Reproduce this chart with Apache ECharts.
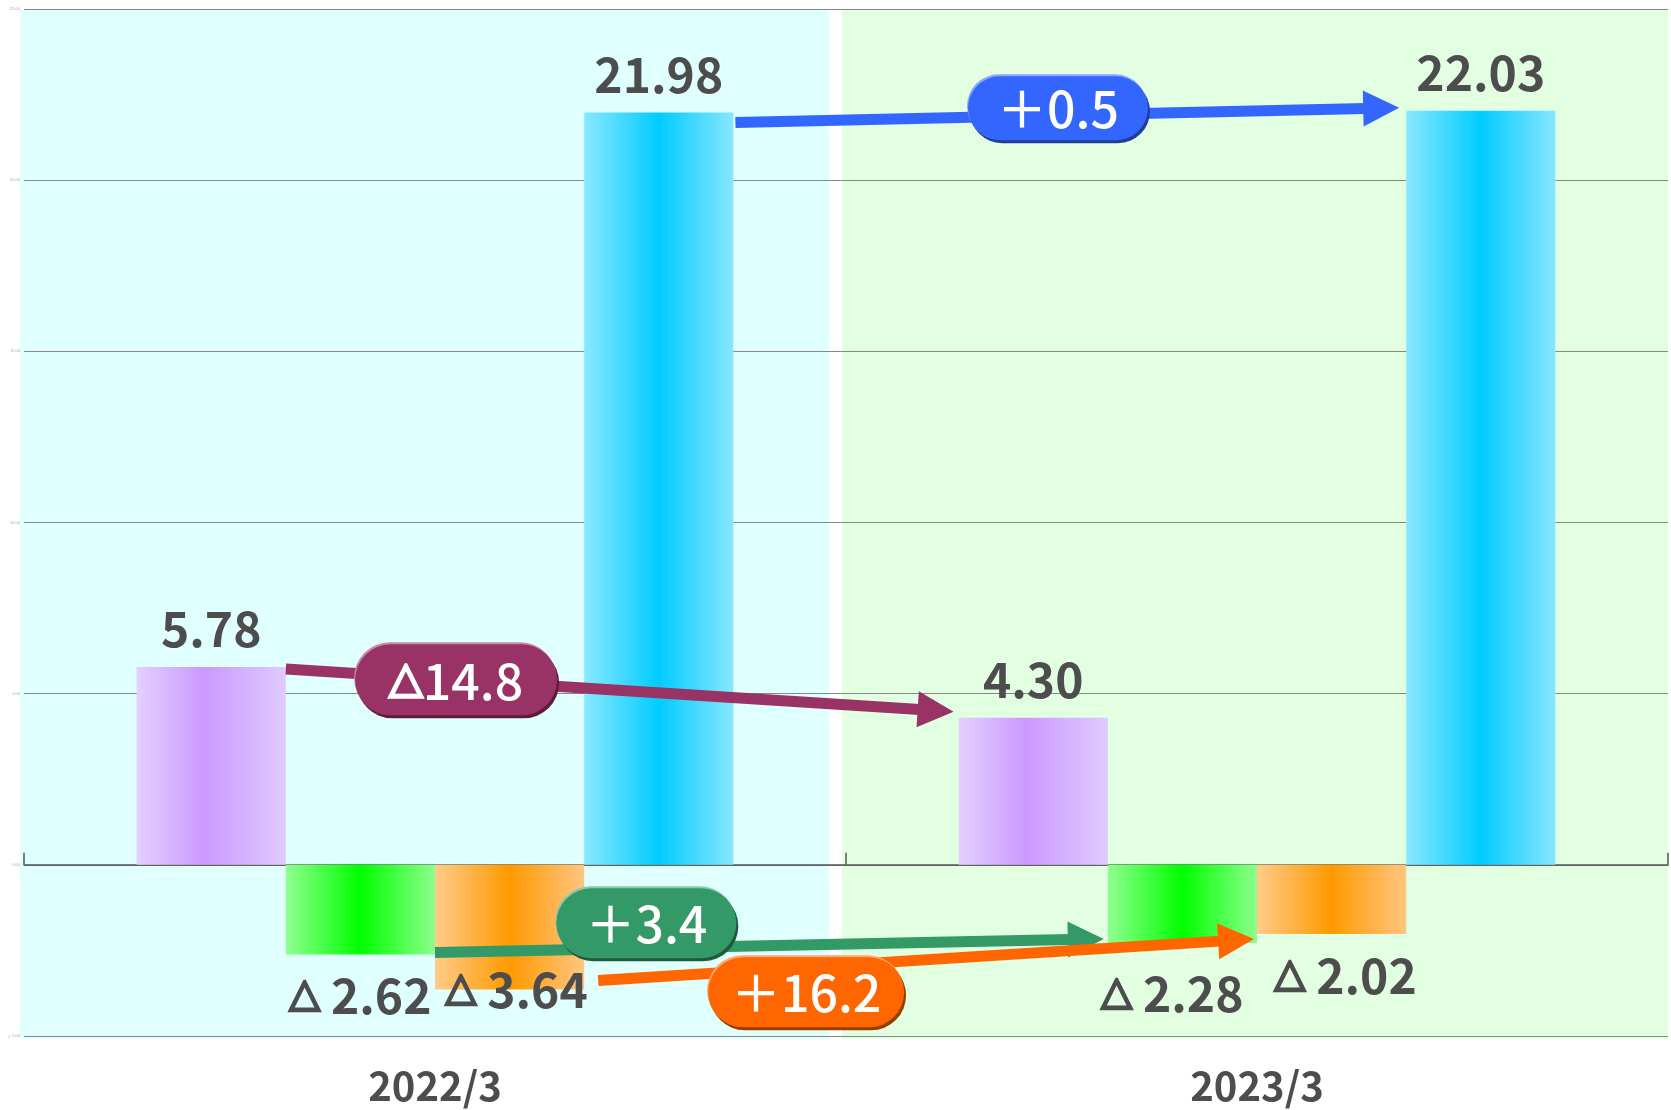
<!DOCTYPE html>
<html><head><meta charset="utf-8">
<script src="https://cdn.jsdelivr.net/npm/echarts@6/dist/echarts.min.js"></script>
<style>html,body{margin:0;padding:0;background:#fff}#c{width:1671px;height:1110px}</style>
</head><body><div id="c"></div>
<script>
// ---- data ----
const categories = ['2022/3', '2023/3'];
const purpleValues = [5.78, 4.30];
const greenValues = [-2.62, -2.28];
const orangeValues = [-3.64, -2.02];
const cyanValues = [21.98, 22.03];
const yMin = -5, yMax = 25, yStep = 5;
const changeLabels = ['△14.8', '＋3.4', '＋16.2', '＋0.5'];

// ---- styles ----
const LABEL_FONT = '"Noto Sans CJK JP","Liberation Sans",sans-serif';
function grad(edgeL, mid, edgeR, midPos) {
  return new echarts.graphic.LinearGradient(0, 0, 1, 0, [
    {offset: 0, color: edgeL}, {offset: midPos, color: mid}, {offset: 1, color: edgeR}
  ]);
}
function fmt(v) { return v < 0 ? '△ ' + Math.abs(v).toFixed(2) : v.toFixed(2); }
function fmtRich(v) { return v < 0 ? '{t|△} ' + Math.abs(v).toFixed(2) : v.toFixed(2); }
const baseLabel = {
  show: true, fontFamily: LABEL_FONT, fontWeight: 'bold', fontSize: 48,
  color: '#4d4d4d', formatter: p => fmtRich(p.value),
  rich: { t: { fontFamily: '"DejaVu Sans"', fontWeight: 'bold', fontSize: 40, color: '#4d4d4d',
               textBorderColor: '#4d4d4d', textBorderWidth: 2.5 } }
};
// label nudges for negative bars (style only)
const greenNudge = [[0, 17], [-10, 27]];
const orangeNudge = [[7, -24], [14, 18]];
function negData(vals, nudge) {
  return vals.map((v, i) => ({ value: v, label: { offset: nudge[i] } }));
}

const chart = echarts.init(document.getElementById('c'), null, {renderer: 'canvas'});
const option = {
  animation: false,
  backgroundColor: '#ffffff',
  grid: { left: 24, right: 3, top: 9, bottom: 74, containLabel: false, outerBoundsMode: 'none' },
  xAxis: [{
    type: 'category', data: categories,
    axisLine: { show: true, onZero: true, lineStyle: { color: '#555', width: 1.5 } },
    axisTick: { show: true, inside: true, length: 12, lineStyle: { color: '#555', width: 1.5 } },
    axisLabel: { show: false },
    splitLine: { show: false }
  }, {
    type: 'category', data: categories, position: 'bottom',
    axisLine: { show: false, onZero: false }, axisTick: { show: false },
    axisLabel: { margin: 30, fontFamily: LABEL_FONT, fontWeight: 'bold', fontSize: 40, color: '#4d4d4d' },
    splitLine: { show: false }
  }],
  yAxis: {
    type: 'value', min: yMin, max: yMax, interval: yStep,
    axisLine: { show: false }, axisTick: { show: false },
    axisLabel: { fontSize: 4, color: '#aaa', margin: 4, formatter: v => fmt(v) },
    splitLine: { show: true, lineStyle: { color: '#888', width: 1 } }
  },
  series: [
    { name: 'p', type: 'bar', barGap: '0%', barCategoryGap: '27.4%', data: purpleValues,
      itemStyle: { color: grad('#e3d0ff', '#cc99ff', '#e0caff', 0.45) },
      label: Object.assign({}, baseLabel, { position: 'top', distance: 14 }) },
    { name: 'g', type: 'bar', barGap: '0%', barCategoryGap: '27.4%', data: negData(greenValues, greenNudge),
      itemStyle: { color: grad('#90ff90', '#00ff00', '#8cff8c', 0.5) },
      label: Object.assign({}, baseLabel, { position: 'bottom', distance: 0 }) },
    { name: 'o', type: 'bar', barGap: '0%', barCategoryGap: '27.4%', data: negData(orangeValues, orangeNudge),
      itemStyle: { color: grad('#ffcc88', '#ff9900', '#ffc680', 0.5) },
      label: Object.assign({}, baseLabel, { position: 'bottom', distance: 0 }) },
    { name: 'c', type: 'bar', barGap: '0%', barCategoryGap: '27.4%', data: cyanValues,
      itemStyle: { color: grad('#8ae8ff', '#00ccff', '#88e6ff', 0.5) },
      label: Object.assign({}, baseLabel, { position: 'top', distance: 14 }) }
  ]
};
chart.setOption(option);

// ---- annotations computed from the chart's own layout ----
function barBox(si, di) {
  const vals = [purpleValues, greenValues, orangeValues, cyanValues][si];
  let lay = null;
  try { lay = chart.getModel().getSeriesByIndex(si).getData().getItemLayout(di); } catch (e) {}
  const y0 = chart.convertToPixel({yAxisIndex: 0}, 0);
  const yv = chart.convertToPixel({yAxisIndex: 0}, vals[di]);
  let left, w;
  if (lay) { left = lay.x; w = lay.width; }
  else {
    const c0 = chart.convertToPixel({xAxisIndex: 0}, 0), c1 = chart.convertToPixel({xAxisIndex: 0}, 1);
    const band = c1 - c0; w = band * (1 - 0.274) / 4;
    left = chart.convertToPixel({xAxisIndex: 0}, di) - 2 * w + si * w;
  }
  return { left: left, right: left + w, yv: yv, y0: y0 };
}

const c0 = chart.convertToPixel({xAxisIndex: 0}, 0);
const c1 = chart.convertToPixel({xAxisIndex: 0}, 1);
const band = c1 - c0;
const gLeft = c0 - band / 2, gRight = c1 + band / 2, gMid = (c0 + c1) / 2;
const yTop = chart.convertToPixel({yAxisIndex: 0}, yMax);
const yBot = chart.convertToPixel({yAxisIndex: 0}, yMin);

const graphics = [];
graphics.push({ type: 'rect', z: -10, silent: true,
  shape: { x: gLeft - 4, y: yTop + 1, width: (gMid - 17) - (gLeft - 4), height: yBot - yTop + 2 },
  style: { fill: '#e0ffff' } });
graphics.push({ type: 'rect', z: -10, silent: true,
  shape: { x: gMid - 4, y: yTop + 1, width: gRight - (gMid - 4), height: yBot - yTop + 2 },
  style: { fill: '#e2ffe2' } });

const arrowColors = [
  { main: '#993366', dark: '#5a1d3b', light: '#c98aa8' },
  { main: '#339966', dark: '#1e5a3c', light: '#8ac9a9' },
  { main: '#ff6600', dark: '#9a3d00', light: '#ffa770' },
  { main: '#3366ff', dark: '#1f3d9a', light: '#8aa6ff' }
];
const arrows = [];
(function () {
  const p0 = barBox(0, 0), p1 = barBox(0, 1);
  arrows.push({ s: [p0.right, p0.yv + 2], e: [p1.left - 5, p1.yv - 6], t: 0.255, dy: 0, w: 202, h: 71 });
  const g0 = barBox(1, 0), g1 = barBox(1, 1);
  arrows.push({ s: [g0.right, g0.yv - 2], e: [g1.left - 4, g1.yv - 4], t: 0.316, dy: -25, w: 180, h: 70 });
  const o0 = barBox(2, 0), o1 = barBox(2, 1);
  arrows.push({ s: [o0.right + 14, o0.yv - 9], e: [o1.left - 3, o1.yv + 5], t: 0.317, dy: 25, w: 196, h: 70 });
  const k0 = barBox(3, 0), k1 = barBox(3, 1);
  arrows.push({ s: [k0.right + 2, k0.yv + 10], e: [k1.left - 7, k1.yv - 3], t: 0.486, dy: -7, w: 180, h: 64 });
})();

const HEAD_L = 36, HEAD_W = 36, LW = 11;
arrows.forEach((a, i) => {
  const col = arrowColors[i];
  const dx = a.e[0] - a.s[0], dy = a.e[1] - a.s[1];
  const len = Math.sqrt(dx * dx + dy * dy);
  const ux = dx / len, uy = dy / len, nx = -uy, ny = ux;
  const bx = a.e[0] - ux * HEAD_L, by = a.e[1] - uy * HEAD_L;
  graphics.push({ type: 'line', z: 100, silent: true,
    shape: { x1: a.s[0], y1: a.s[1], x2: bx + ux * 2, y2: by + uy * 2 },
    style: { stroke: col.main, lineWidth: LW, lineCap: 'butt' } });
  graphics.push({ type: 'polygon', z: 100, silent: true,
    shape: { points: [[a.e[0], a.e[1]], [bx + nx * HEAD_W / 2, by + ny * HEAD_W / 2], [bx - nx * HEAD_W / 2, by - ny * HEAD_W / 2]] },
    style: { fill: col.main } });
});
arrows.forEach((a, i) => {
  const col = arrowColors[i];
  const cx = a.s[0] + (a.e[0] - a.s[0]) * a.t;
  const cy = a.s[1] + (a.e[1] - a.s[1]) * a.t + a.dy;
  const x = cx - a.w / 2, y = cy - a.h / 2, r = a.h / 2;
  graphics.push({ type: 'rect', z: 110, silent: true,
    shape: { x: x + 2, y: y + 3, width: a.w, height: a.h, r: r }, style: { fill: col.dark } });
  graphics.push({ type: 'rect', z: 111, silent: true,
    shape: { x: x - 1, y: y - 2, width: a.w, height: a.h, r: r }, style: { fill: col.light } });
  graphics.push({ type: 'rect', z: 112, silent: true,
    shape: { x: x, y: y, width: a.w, height: a.h, r: r }, style: { fill: col.main } });
  const txt = changeLabels[i].replace('△', '{t|△}');
  graphics.push({ type: 'text', z: 113, silent: true,
    style: { x: cx, y: cy + 1, text: txt, fill: '#ffffff',
      fontFamily: LABEL_FONT, fontWeight: 500, fontSize: 50,
      align: 'center', verticalAlign: 'middle',
      rich: { t: { fontFamily: '"DejaVu Sans"', fontWeight: 'bold', fontSize: 44, fill: '#ffffff',
                   stroke: '#ffffff', lineWidth: 2.5 } } } });
});

chart.setOption({ graphic: graphics });
</script>
</body></html>
